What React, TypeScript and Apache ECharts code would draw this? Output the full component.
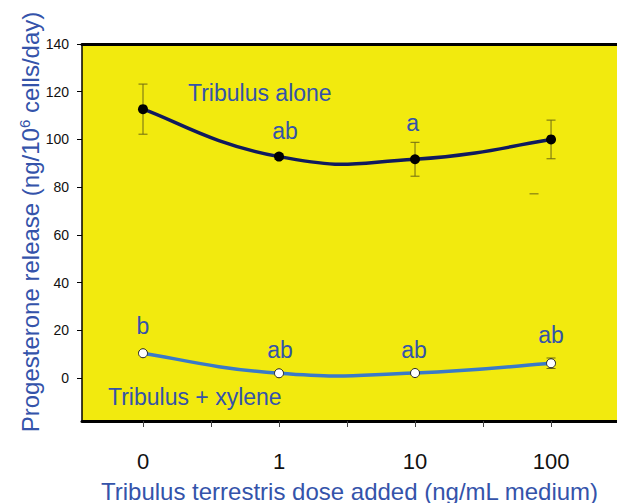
import React, { useEffect, useRef } from "react";
import * as echarts from "echarts";

const doseLabels = ["0", "1", "10", "100"];
const xPos = [0, 1, 2, 3];
const aloneMean = [112.7, 92.8, 91.7, 100.0];
const aloneErr = [10.5, 1.2, 7.1, 8.1];
const xyleneMean = [10.4, 2.0, 2.1, 6.2];
const xyleneErr = [0, 0, 0, 2.2];
const aloneLetters = ["", "ab", "a", ""];
const xyleneLetters = ["b", "ab", "ab", "ab"];
const yTicks = [0, 20, 40, 60, 80, 100, 120, 140];
const xTicks = [0, 0.5, 1, 1.5, 2, 2.5, 3];
const strayMark = [[2.875, 77.2]];

const aloneOffsets = [[0, 0], [6, -26], [-2.5, -36], [0, 0]];
const xyleneOffsets = [[0, -27], [1, -23], [-1, -23], [0, -28]];

const FONT = "'Liberation Sans', Arial, sans-serif";
const BLUE = "#3453AA";
const ERR = "#6E6A14";
const SMOOTH = 0.25;

function errRender(params: any, api: any) {
  const x = api.value(0);
  const lo = api.value(1);
  const hi = api.value(2);
  if (hi - lo <= 0) return null;
  const t = api.coord([x, hi]);
  const b = api.coord([x, lo]);
  const w = 4.5;
  const st = { stroke: ERR, lineWidth: 1 };
  return {
    type: "group",
    children: [
      { type: "line", shape: { x1: t[0], y1: t[1], x2: b[0], y2: b[1] }, style: st },
      { type: "line", shape: { x1: t[0] - w, y1: t[1], x2: t[0] + w, y2: t[1] }, style: st },
      { type: "line", shape: { x1: b[0] - w, y1: b[1], x2: b[0] + w, y2: b[1] }, style: st },
    ],
  };
}

function strayRender(params: any, api: any) {
  const p = api.coord([api.value(0), api.value(1)]);
  return {
    type: "line",
    shape: { x1: p[0] - 4.5, y1: p[1], x2: p[0] + 4.5, y2: p[1] },
    style: { stroke: ERR, lineWidth: 1 },
  };
}

function curveRender(means: number[], color: string, width: number) {
  return (params: any, api: any) => {
    const i = params.dataIndex;
    const n = xPos.length;
    if (i >= n - 1) return null;
    const P = (k: number) => {
      const kk = Math.max(0, Math.min(n - 1, k));
      return api.coord([xPos[kk], means[kk]]);
    };
    const p0 = P(i - 1);
    const p1 = P(i);
    const p2 = P(i + 1);
    const p3 = P(i + 2);
    const c1x = p1[0] + (p2[0] - p0[0]) * SMOOTH;
    const c1y = p1[1] + (p2[1] - p0[1]) * SMOOTH;
    const c2x = p2[0] - (p3[0] - p1[0]) * SMOOTH;
    const c2y = p2[1] - (p3[1] - p1[1]) * SMOOTH;
    return {
      type: "bezierCurve",
      shape: { x1: p1[0], y1: p1[1], x2: p2[0], y2: p2[1], cpx1: c1x, cpy1: c1y, cpx2: c2x, cpy2: c2y },
      style: { stroke: color, lineWidth: width, fill: "none", lineCap: "round" },
    };
  };
}

export default function App() {
  const ref = useRef<HTMLDivElement>(null);
  useEffect(() => {
    document.body.style.margin = "0";
    const chart = echarts.init(ref.current!, null, { renderer: "svg" });
    const mkData = (means: number[], letters: string[], offs: number[][]) =>
      xPos.map((x, i) => ({
        value: [x, means[i]],
        label: {
          show: letters[i] !== "",
          formatter: letters[i],
          position: "inside",
          offset: offs[i],
          color: BLUE,
          fontSize: 23,
          fontFamily: FONT,
        },
      }));
    chart.setOption({
      animation: false,
      textStyle: { fontFamily: FONT },
      grid: {
        left: 82,
        right: 0,
        top: 44,
        bottom: 82,
        show: true,
        backgroundColor: "#F2EA0E",
        borderWidth: 0,
      },
      xAxis: [
        {
          type: "value",
          min: -0.4485,
          max: 3.485,
          position: "bottom",
          axisLine: { show: true, onZero: false, lineStyle: { color: "#000", width: 3 } },
          axisTick: { show: true, customValues: xTicks, length: 6, lineStyle: { color: "#444", width: 1 } },
          axisLabel: {
            show: true,
            customValues: xPos,
            formatter: (v: number) => doseLabels[Math.round(v)],
            margin: 29,
            fontSize: 22,
            color: "#111",
            fontFamily: FONT,
          },
          splitLine: { show: false },
        },
        {
          type: "value",
          min: -0.4485,
          max: 3.485,
          position: "top",
          axisLine: { show: true, onZero: false, lineStyle: { color: "#000", width: 3 } },
          axisTick: { show: false },
          axisLabel: { show: false },
          splitLine: { show: false },
        },
      ],
      yAxis: {
        type: "value",
        min: -18,
        max: 140,
        axisLine: { show: true, onZero: false, lineStyle: { color: "#000", width: 1.5 } },
        axisTick: { show: true, customValues: yTicks, length: 5, lineStyle: { color: "#000", width: 1 } },
        axisLabel: {
          show: true,
          customValues: yTicks,
          margin: 13,
          fontSize: 14,
          color: "#111",
          fontFamily: FONT,
        },
        splitLine: { show: false },
      },
      series: [
        {
          type: "custom",
          xAxisIndex: 0,
          renderItem: errRender,
          data: xPos.map((x, i) => [x, aloneMean[i] - aloneErr[i], aloneMean[i] + aloneErr[i]]),
          z: 1,
        },
        {
          type: "custom",
          xAxisIndex: 0,
          renderItem: errRender,
          data: xPos.map((x, i) => [x, xyleneMean[i] - xyleneErr[i], xyleneMean[i] + xyleneErr[i]]),
          z: 1,
        },
        {
          type: "custom",
          xAxisIndex: 0,
          renderItem: strayRender,
          data: strayMark,
          z: 1,
        },
        {
          type: "custom",
          xAxisIndex: 0,
          renderItem: curveRender(aloneMean, "#101A5E", 3.5),
          data: xPos.map((x, i) => [x, aloneMean[i]]),
          z: 2,
        },
        {
          type: "custom",
          xAxisIndex: 0,
          renderItem: curveRender(xyleneMean, "#3A7AC8", 3.5),
          data: xPos.map((x, i) => [x, xyleneMean[i]]),
          z: 2,
        },
        {
          type: "scatter",
          xAxisIndex: 0,
          symbol: "circle",
          symbolSize: 10,
          itemStyle: { color: "#000", opacity: 1 },
          data: mkData(aloneMean, aloneLetters, aloneOffsets),
          z: 3,
        },
        {
          type: "scatter",
          xAxisIndex: 0,
          symbol: "circle",
          symbolSize: 9,
          itemStyle: { color: "#fff", borderColor: "#222", borderWidth: 1, opacity: 1 },
          data: mkData(xyleneMean, xyleneLetters, xyleneOffsets),
          z: 3,
        },
      ],
      graphic: [
        {
          type: "text",
          x: 188,
          y: 93,
          z: 10,
          style: {
            text: "Tribulus alone",
            fill: BLUE,
            fontSize: 23,
            fontFamily: FONT,
            align: "left",
            verticalAlign: "middle",
          },
        },
        {
          type: "text",
          x: 108,
          y: 397,
          z: 10,
          style: {
            text: "Tribulus + xylene",
            fill: BLUE,
            fontSize: 23,
            fontFamily: FONT,
            align: "left",
            verticalAlign: "middle",
          },
        },
        {
          type: "text",
          x: 349.5,
          y: 491,
          z: 10,
          style: {
            text: "Tribulus terrestris dose added (ng/mL medium)",
            fill: BLUE,
            fontSize: 24,
            fontFamily: FONT,
            align: "center",
            verticalAlign: "middle",
          },
        },
        {
          type: "text",
          x: 30,
          y: 222,
          rotation: Math.PI / 2,
          z: 10,
          style: {
            text: "{n|Progesterone release (ng/10}{s|6}{n| cells/day)}",
            align: "center",
            verticalAlign: "middle",
            rich: {
              n: { fontSize: 24, fontFamily: FONT, fill: BLUE, color: BLUE, lineHeight: 28 },
              s: { fontSize: 15, fontFamily: FONT, fill: BLUE, color: BLUE, lineHeight: 28, padding: [0, 0, 12, 0] },
            },
          },
        },
      ],
    });
    return () => chart.dispose();
  }, []);
  return <div ref={ref} style={{ width: 617, height: 503 }} />;
}
